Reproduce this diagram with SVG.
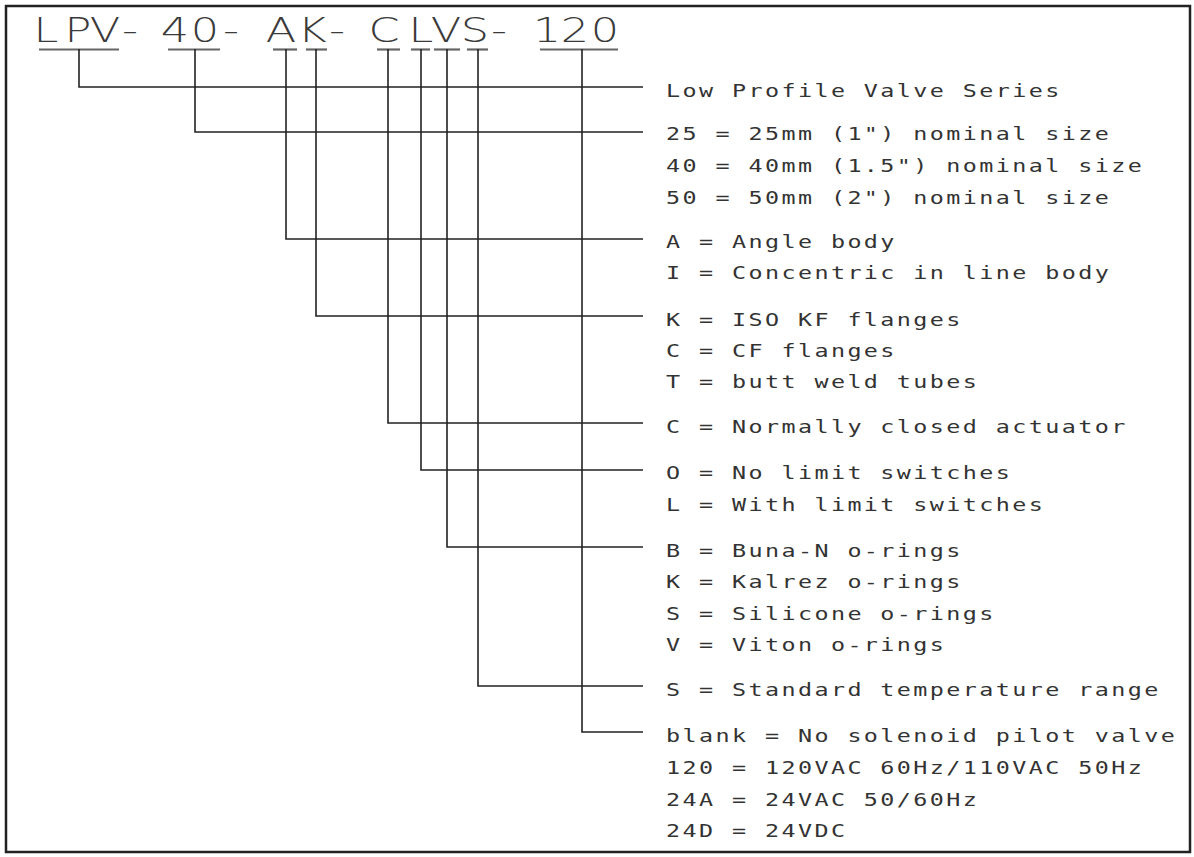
<svg xmlns="http://www.w3.org/2000/svg" width="1194" height="857" viewBox="0 0 1194 857">
<style>
.frame{fill:none;stroke:#222;stroke-width:2.5}
.ul{stroke:#666;stroke-width:2.2}
.ln{fill:none;stroke:#222;stroke-width:1.6}
.hd{font-family:"DejaVu Sans","Liberation Sans",sans-serif;font-size:33px;font-weight:200;fill:#3a3a3a;text-anchor:middle}
.t{font-family:"DejaVu Sans Mono","Liberation Mono",monospace;font-size:18px;letter-spacing:1.855px;fill:#333}
</style>
<rect width="1194" height="857" fill="#fff"/>
<rect class="frame" x="6" y="6" width="1184" height="846"/>
<g id="code">
<g transform="scale(1.35 1)">
<text class="hd" y="42" x="34.07 57.78 77.78 96.30 111.11 129.63 151.85 171.11 185.19 208.15 231.11 249.63 262.96 284.44 311.85 330.37 351.85 369.63 385.19 405.19 425.93 448.15">LPV- 40- AK- CLVS- 120</text>
</g>
<line class="ul" x1="39" y1="49.5" x2="119" y2="49.5"/>
<line class="ul" x1="168" y1="49.5" x2="220" y2="49.5"/>
<line class="ul" x1="273" y1="49.5" x2="297" y2="49.5"/>
<line class="ul" x1="306" y1="49.5" x2="327" y2="49.5"/>
<line class="ul" x1="377" y1="49.5" x2="400" y2="49.5"/>
<line class="ul" x1="411" y1="49.5" x2="430" y2="49.5"/>
<line class="ul" x1="434" y1="49.5" x2="460" y2="49.5"/>
<line class="ul" x1="467" y1="49.5" x2="488" y2="49.5"/>
<line class="ul" x1="540" y1="49.5" x2="618" y2="49.5"/>
</g>
<g id="connectors">
<path class="ln" d="M79 49V87H643"/>
<path class="ln" d="M195 49V132H643"/>
<path class="ln" d="M286 49V239H643"/>
<path class="ln" d="M316 49V316H643"/>
<path class="ln" d="M388 49V423H643"/>
<path class="ln" d="M421 49V470H643"/>
<path class="ln" d="M447 49V547H643"/>
<path class="ln" d="M478 49V686H643"/>
<path class="ln" d="M582 49V732H643"/>
</g>
<g transform="translate(666 0) scale(1.3 1)">
<g id="series"><text class="t" x="0" y="97">Low Profile Valve Series</text></g>
<g id="size">
<text class="t" x="0" y="140">25 = 25mm (1") nominal size</text>
<text class="t" x="0" y="172">40 = 40mm (1.5") nominal size</text>
<text class="t" x="0" y="204">50 = 50mm (2") nominal size</text>
</g>
<g id="body">
<text class="t" x="0" y="248">A = Angle body</text>
<text class="t" x="0" y="279">I = Concentric in line body</text>
</g>
<g id="flanges">
<text class="t" x="0" y="326">K = ISO KF flanges</text>
<text class="t" x="0" y="357">C = CF flanges</text>
<text class="t" x="0" y="388">T = butt weld tubes</text>
</g>
<g id="actuator"><text class="t" x="0" y="433">C = Normally closed actuator</text></g>
<g id="switches">
<text class="t" x="0" y="479">O = No limit switches</text>
<text class="t" x="0" y="511">L = With limit switches</text>
</g>
<g id="orings">
<text class="t" x="0" y="557">B = Buna-N o-rings</text>
<text class="t" x="0" y="588">K = Kalrez o-rings</text>
<text class="t" x="0" y="620">S = Silicone o-rings</text>
<text class="t" x="0" y="651">V = Viton o-rings</text>
</g>
<g id="temperature"><text class="t" x="0" y="696">S = Standard temperature range</text></g>
<g id="solenoid">
<text class="t" x="0" y="742">blank = No solenoid pilot valve</text>
<text class="t" x="0" y="774">120 = 120VAC 60Hz/110VAC 50Hz</text>
<text class="t" x="0" y="806">24A = 24VAC 50/60Hz</text>
<text class="t" x="0" y="837">24D = 24VDC</text>
</g>
</g>
</svg>
